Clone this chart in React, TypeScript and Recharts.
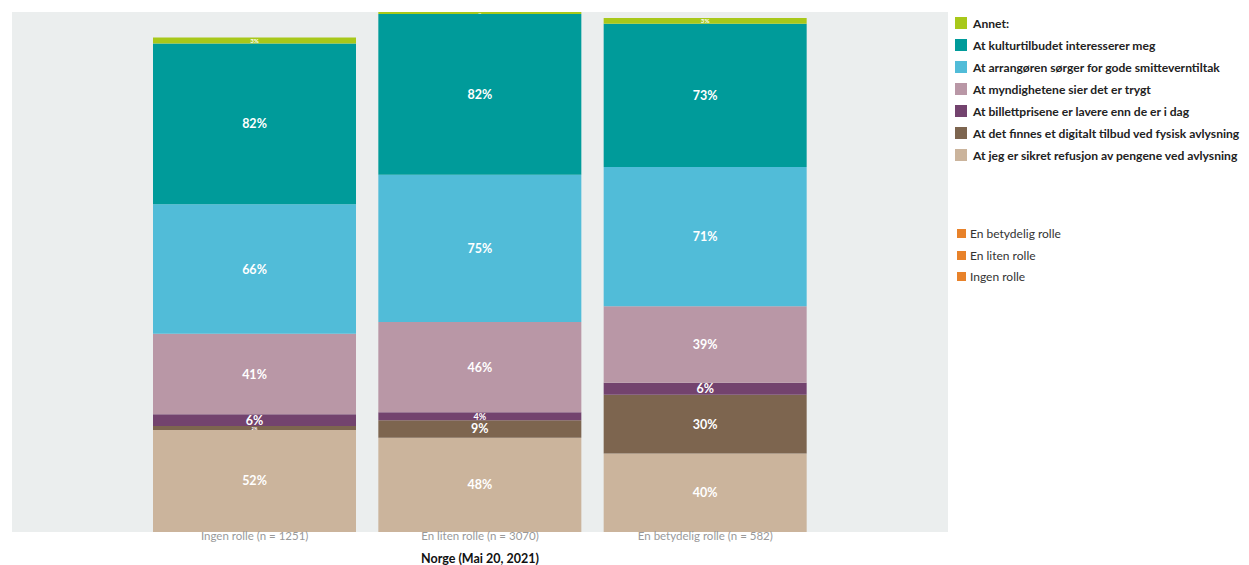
import React from "react";
import { BarChart, Bar, XAxis, YAxis, CartesianGrid, LabelList, Legend, Label } from "recharts";

const categories = ["Ingen rolle (n = 1251)", "En liten rolle (n = 3070)", "En betydelig rolle (n = 582)"];
const refusjon = [52, 48, 40];
const digitalt = [2, 9, 30];
const billett = [6, 4, 6];
const myndig = [41, 46, 39];
const arrangor = [66, 75, 71];
const kultur = [82, 82, 73];
const annet = [3, 1, 3];

const seriesNames = [
  "At jeg er sikret refusjon av pengene ved avlysning",
  "At det finnes et digitalt tilbud ved fysisk avlysning",
  "At billettprisene er lavere enn de er i dag",
  "At myndighetene sier det er trygt",
  "At arrangøren sørger for gode smitteverntiltak",
  "At kulturtilbudet interesserer meg",
  "Annet:",
];
const roleLegend = ["En betydelig rolle", "En liten rolle", "Ingen rolle"];

const keys = ["refusjon", "digitalt", "billett", "myndig", "arrangor", "kultur", "annet"];
const colors = ["#cbb49c", "#7d654f", "#73436e", "#b997a6", "#51bcd8", "#009b9a", "#a8c81a"];
const seriesValues = [refusjon, digitalt, billett, myndig, arrangor, kultur, annet];

const data = categories.map((c, i) => {
  const row: any = { name: c };
  keys.forEach((k, j) => (row[k] = seriesValues[j][i]));
  return row;
});

const FONT = "Lato, 'Noto Sans', sans-serif";

const renderLabel = (props: any) => {
  const { x, y, width, height, value } = props;
  const fs = height < 6 ? Math.max(2, height * 1.05) : Math.min(12.5, height + 1.2);
  return (
    <text
      x={x + width / 2}
      y={y + height / 2}
      textAnchor="middle"
      dominantBaseline="central"
      fill="#ffffff"
      fontWeight={700}
      fontSize={fs}
      fontFamily={FONT}
    >
      {value}%
    </text>
  );
};

const LegendContent = () => {
  const items = [...seriesNames].reverse();
  const cols = [...colors].reverse();
  return (
    <div style={{ fontFamily: FONT }}>
      {items.map((n, i) => (
        <div key={n} style={{ display: "flex", alignItems: "center", height: 22 }}>
          <span style={{ width: 12, height: 12, background: cols[i], display: "inline-block", marginRight: 6, flexShrink: 0 }} />
          <span style={{ fontWeight: 700, fontSize: 12.1, color: "#222", whiteSpace: "nowrap" }}>{n}</span>
        </div>
      ))}
      <div style={{ height: 57 }} />
      {roleLegend.map((n) => (
        <div key={n} style={{ display: "flex", alignItems: "center", height: 21.5 }}>
          <span style={{ width: 9, height: 9, background: "#e8822a", display: "inline-block", marginLeft: 2, marginRight: 4, flexShrink: 0 }} />
          <span style={{ fontSize: 12, color: "#333", whiteSpace: "nowrap" }}>{n}</span>
        </div>
      ))}
    </div>
  );
};

export default function App() {
  return (
    <BarChart
      width={1241}
      height={557}
      data={data}
      margin={{ top: 4, left: 4, right: 7, bottom: 0 }}
      barSize={203}
    >
      <CartesianGrid fill="#ebeeee" stroke="none" horizontal={false} vertical={false} />
      <XAxis
        dataKey="name"
        axisLine={false}
        tickLine={false}
        tickSize={0}
        tickMargin={0}
        height={33}
        padding={{ left: 130, right: 130 }}
        tick={{ fill: "#999", fontSize: 11.5, fontFamily: FONT }}
        interval={0}
      >
        <Label
          value="Norge (Mai 20, 2021)"
          position="insideBottom"
          offset={2}
          style={{ fill: "#111", fontWeight: 700, fontSize: 12.5, fontFamily: FONT }}
        />
      </XAxis>
      <YAxis hide domain={[0, "dataMax"]} />
      <Legend
        layout="vertical"
        verticalAlign="top"
        align="right"
        content={<LegendContent />}
        wrapperStyle={{ left: 947, top: 4, width: 294 }}
      />
      {keys.map((k, i) => (
        <Bar key={k} dataKey={k} stackId="a" fill={colors[i]} isAnimationActive={false} name={seriesNames[i]}>
          <LabelList dataKey={k} content={renderLabel} />
        </Bar>
      ))}
    </BarChart>
  );
}
